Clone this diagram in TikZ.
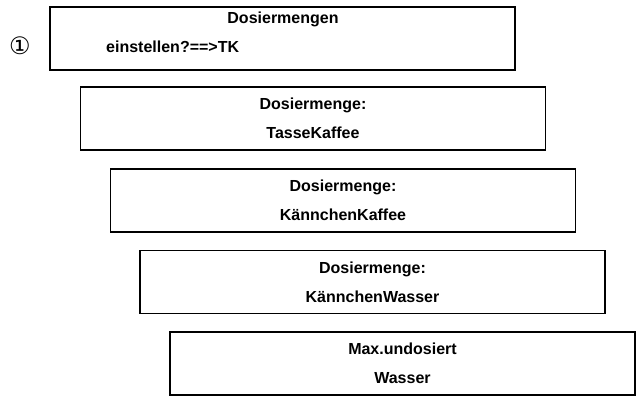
\documentclass[tikz,border=0pt]{standalone}
\usepackage{fontspec}
\setmainfont{Liberation Sans}
\newfontfamily\symfont{DejaVu Sans}
\begin{document}
\begin{tikzpicture}[x=1pt,y=-1pt,
    stage/.style={draw=black,line width=1.5pt,minimum width=465pt,minimum height=63pt,
                 inner sep=0pt,align=center,font=\bfseries\fontsize{16}{29}\selectfont},
    txt/.style={inner sep=0pt,font=\bfseries\fontsize{16}{18}\selectfont}]
    \useasboundingbox (0,0) rectangle (640,401);

    \node[stage] (s1) at (282.5,38.5) {};
    \node[txt] (s1a) at (283,19) {Dosiermengen};
    \node[txt,anchor=west] (s1b) at (106,47) {einstellen?==>TK};
    \node[inner sep=0pt,font=\symfont\fontsize{24}{24}\selectfont] (num) at (20,46) {①};

    \node[stage] (s2) at (313,118.5) {Dosiermenge:\\TasseKaffee};
    \node[stage] (s3) at (343,200.5) {Dosiermenge:\\KännchenKaffee};
    \node[stage] (s4) at (372.5,282) {Dosiermenge:\\KännchenWasser};
    \node[stage] (s5) at (402.5,363.5) {Max.undosiert\\Wasser};
  \end{tikzpicture}
\end{document}
